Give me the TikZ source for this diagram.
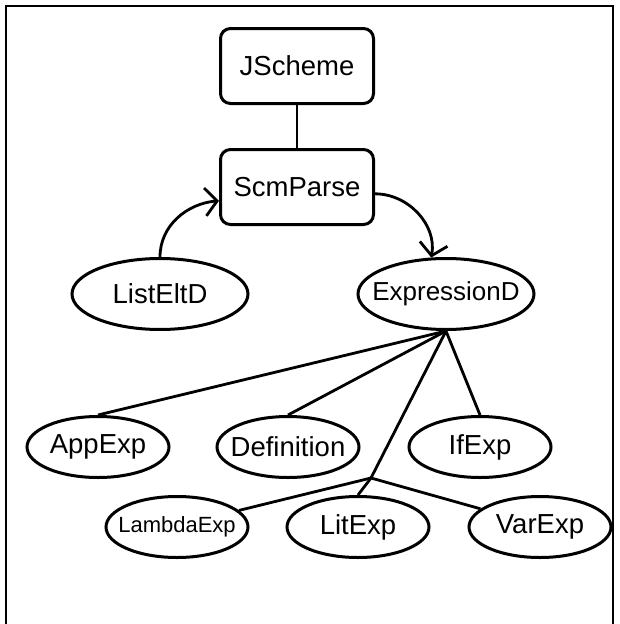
\documentclass[tikz,border=0pt]{standalone}
\usepackage{fontspec}
\setmainfont{Liberation Sans}
\usetikzlibrary{arrows.meta,calc,positioning,shapes.geometric}
\tikzset{
  frame/.style={line width=2.4pt},
  box/.style={draw, rounded corners=10pt, line width=3pt, minimum width=153pt, minimum height=75pt, inner sep=0pt},
  big oval/.style={draw, ellipse, line width=3pt, minimum width=176pt, minimum height=71pt, inner sep=0pt},
  oval/.style={draw, ellipse, line width=3pt, minimum width=142pt, minimum height=61pt, inner sep=0pt},
  link/.style={line width=2.8pt},
  call/.style={line width=2.8pt, -{Straight Barb[length=12pt, width=28pt, line width=2.8pt]}},
}

\begin{document}
\begin{tikzpicture}[x=1pt, y=-1pt, font=\fontsize{27.5}{33}\selectfont]
  \useasboundingbox (0,0) rectangle (619,624);

  % Frame
  \draw[frame] (6,626) -- (6,6) -- (613,6) -- (613,626);

  % Top boxes
  \node[box] (jscheme) at (297,66) {JScheme};
  \node[box] (scm) at (297,187) {ScmParse};

  % Descriptors
  \node[big oval, label=center:ListEltD] (list) at (160,294) {};
  \node[big oval, label={[font=\fontsize{26}{31}\selectfont]center:ExpressionD}] (expr) at (446,294) {};

  % Expression kinds
  \node[oval, label=center:AppExp] (app) at (98,447) {};
  \node[oval, label=center:Definition] (def) at (288,447) {};
  \node[oval, label=center:IfExp] (if) at (480,447) {};
  \node[oval, label={[font=\fontsize{22}{26}\selectfont]center:LambdaExp}] (lam) at (177,527) {};
  \node[oval, label=center:LitExp] (lit) at (358,527) {};
  \node[oval, label=center:VarExp] (var) at (540,527) {};
  \coordinate (fork) at (371,478);

  % Connectors
  \draw[link] (jscheme) -- (scm);
  \draw[call] (list.north) to[out=90, in=185] (scm.190);
  \draw[call] (scm.355) to[out=0, in=80] (expr.112);
  \draw[link] (expr.south) -- (app.north);
  \draw[link] (expr.south) -- (def.north);
  \draw[link] (expr.south) -- (if.north);
  \draw[link] (expr.south) -- (fork) -- (lit.north);
  \draw[link] (lam.15) -- (fork) -- (var.163);
\end{tikzpicture}
\end{document}
